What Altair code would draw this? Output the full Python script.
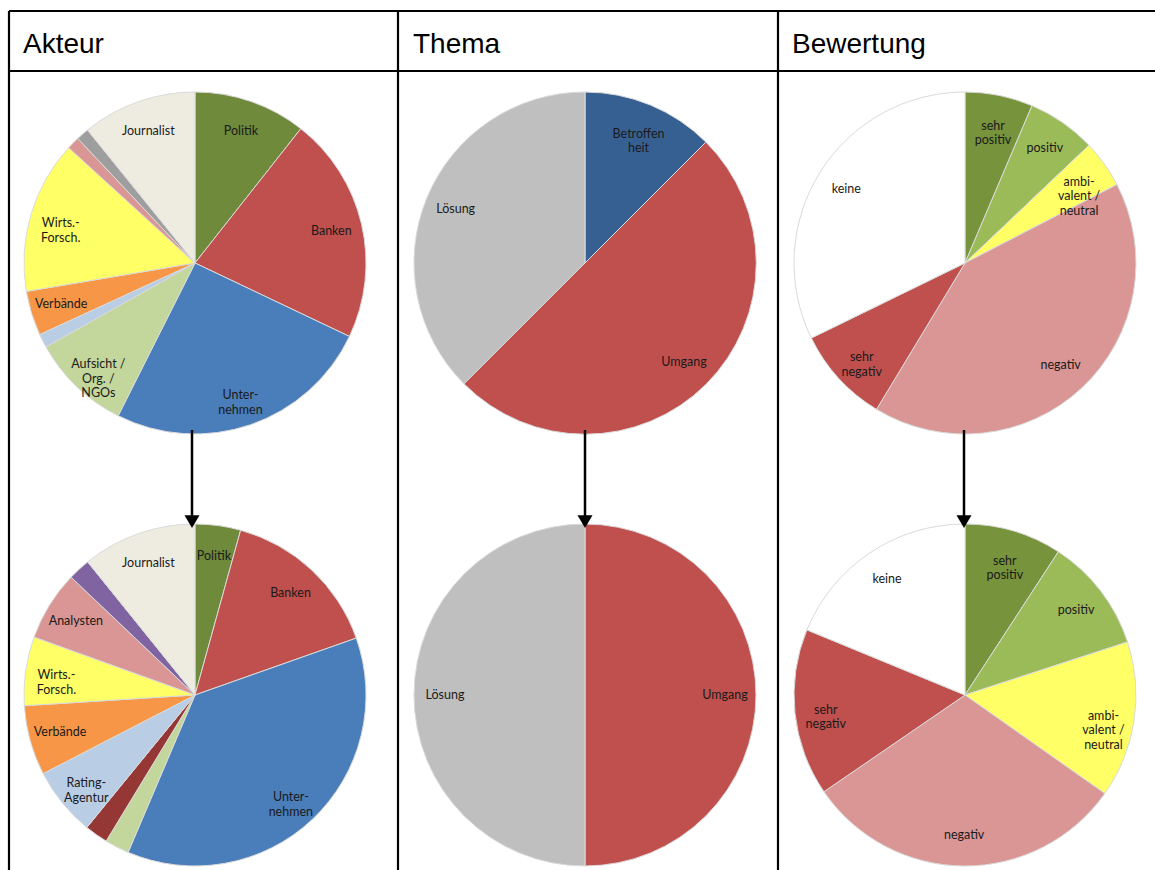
import altair as alt
import pandas as pd

# ---------------- data ----------------
headers = ["Akteur", "Thema", "Bewertung"]

akteur_top_cat = ["Politik", "Banken", "Unter-\nnehmen", "Aufsicht /\nOrg. /\nNGOs", "", "Verbände",
                  "Wirts.-\nForsch.", "", "", "Journalist"]
akteur_top_val = [10.6, 21.4, 25.3, 9.4, 1.3, 4.2, 14.4, 1.2, 1.2, 10.8]
akteur_top_col = ["#6E8A3A", "#C0504D", "#4A7EBB", "#C3D69B", "#B9CDE5", "#F79646",
                  "#FFFF66", "#D99694", "#9E9E9E", "#EEECE1"]

akteur_bot_cat = ["Politik", "Banken", "Unter-\nnehmen", "", "", "Rating-\nAgentur", "Verbände",
                  "Wirts.-\nForsch.", "Analysten", "", "Journalist"]
akteur_bot_val = [4.3, 15.3, 36.8, 2.3, 2.2, 6.5, 6.6, 6.5, 6.6, 2.1, 10.8]
akteur_bot_col = ["#6E8A3A", "#C0504D", "#4A7EBB", "#C3D69B", "#953735", "#B9CDE5", "#F79646",
                  "#FFFF66", "#D99694", "#8064A2", "#EEECE1"]

thema_top_cat = ["Betroffen\nheit", "Umgang", "Lösung"]
thema_top_val = [12.5, 50.0, 37.5]
thema_top_col = ["#376092", "#C0504D", "#BFBFBF"]

thema_bot_cat = ["Umgang", "Lösung"]
thema_bot_val = [50.0, 50.0]
thema_bot_col = ["#C0504D", "#BFBFBF"]

bew_top_cat = ["sehr\npositiv", "positiv", "ambi-\nvalent /\nneutral", "negativ", "sehr\nnegativ", "keine"]
bew_top_val = [6.4, 6.5, 4.5, 41.2, 9.1, 32.2]
bew_top_col = ["#77933C", "#9BBB59", "#FFFF66", "#D99694", "#C0504D", "#FFFFFF"]

bew_bot_cat = ["sehr\npositiv", "positiv", "ambi-\nvalent /\nneutral", "negativ", "sehr\nnegativ", "keine"]
bew_bot_val = [9.2, 10.8, 14.8, 30.7, 15.8, 18.8]
bew_bot_col = ["#77933C", "#9BBB59", "#FFFF66", "#D99694", "#C0504D", "#FFFFFF"]

pies = {
    "akteur_top": (akteur_top_cat, akteur_top_val, akteur_top_col),
    "akteur_bot": (akteur_bot_cat, akteur_bot_val, akteur_bot_col),
    "thema_top": (thema_top_cat, thema_top_val, thema_top_col),
    "thema_bot": (thema_bot_cat, thema_bot_val, thema_bot_col),
    "bew_top": (bew_top_cat, bew_top_val, bew_top_col),
    "bew_bot": (bew_bot_cat, bew_bot_val, bew_bot_col),
}

rows = []
for key, (cats, vals, cols) in pies.items():
    tot = sum(vals)
    for i, (c, v, col) in enumerate(zip(cats, vals, cols)):
        rows.append({"pie": key, "idx": i, "label": c, "pct": v / tot * 100.0, "color": col})
df = pd.DataFrame(rows)

# ---------------- layout ----------------
W, H = 1155, 870
R = 171
LABEL_R = 140
centers = {
    "akteur_top": (195, 263), "akteur_bot": (195, 695),
    "thema_top": (585, 263), "thema_bot": (585, 695),
    "bew_top": (965, 263), "bew_bot": (965, 695),
}

theta_enc = alt.Theta("pct:Q", stack=True, scale=alt.Scale(domain=[0, 100]))
layers = []
for key, (cx, cy) in centers.items():
    base = alt.Chart(df).transform_filter(alt.datum.pie == key)
    arc = base.mark_arc(outerRadius=R, stroke="#DADADA", strokeWidth=1).encode(
        theta=theta_enc,
        color=alt.Color("color:N", scale=None),
        order=alt.Order("idx:Q"),
        x=alt.value(cx), y=alt.value(cy),
    )
    txt = base.mark_text(radius=LABEL_R, font="Lato", fontSize=12.5, lineBreak="\n",
                         align="center", baseline="middle", color="#1a1a1a").encode(
        theta=theta_enc,
        order=alt.Order("idx:Q"),
        text="label:N",
        x=alt.value(cx), y=alt.value(cy),
    )
    layers += [arc, txt]

one = alt.Chart(pd.DataFrame({"a": [0]}))

# table lines
LW = 2.2
line_specs = [
    dict(x=9, x2=W, y=11, y2=11),
    dict(x=9, x2=W, y=71, y2=71),
    dict(x=9, x2=9, y=11, y2=H),
    dict(x=398, x2=398, y=11, y2=H),
    dict(x=778, x2=778, y=11, y2=H),
]
for s in line_specs:
    layers.append(one.mark_rule(color="black", strokeWidth=LW).encode(
        x=alt.value(s["x"]), x2=alt.value(s["x2"]), y=alt.value(s["y"]), y2=alt.value(s["y2"])))

# headers
for name, hx in zip(headers, [23, 413, 792]):
    layers.append(one.mark_text(align="left", baseline="middle", font="Liberation Sans",
                                fontSize=28, color="black").encode(
        x=alt.value(hx), y=alt.value(45), text=alt.value(name)))

# arrows
for ax in [192, 585, 964]:
    layers.append(one.mark_rule(color="black", strokeWidth=2.5).encode(
        x=alt.value(ax), x2=alt.value(ax), y=alt.value(430), y2=alt.value(517)))
    layers.append(one.mark_point(shape="M-1,-0.85L1,-0.85L0,0.85Z", filled=True, opacity=1,
                                 color="black", size=225).encode(
        x=alt.value(ax), y=alt.value(521.5)))

chart = alt.layer(*layers).properties(
    width=W, height=H, padding=0, autosize="none"
).configure_view(stroke=None)

chart.save("out.html", embed_options={"renderer": "svg", "actions": False})
